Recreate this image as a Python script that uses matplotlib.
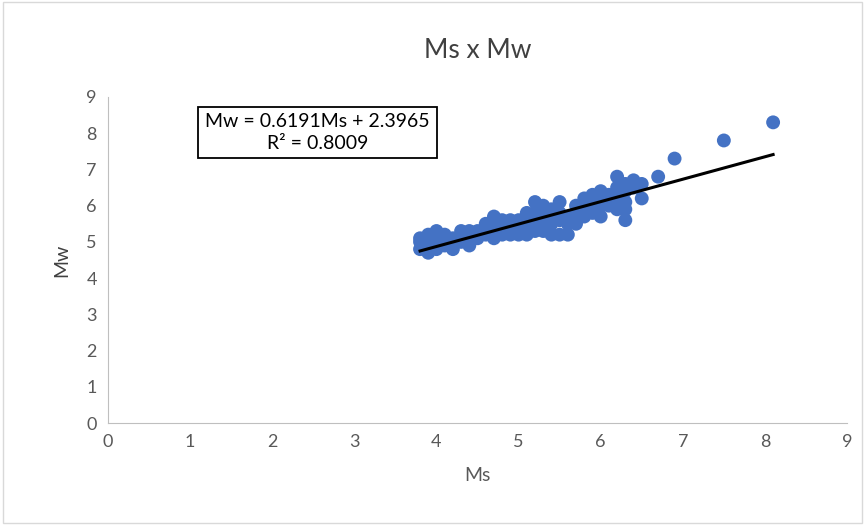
import matplotlib.pyplot as plt
import matplotlib.patches as patches
import numpy as np

# Ms values and the Mw values observed at each
ms_groups = [3.8, 3.9, 4.0, 4.1, 4.2, 4.3, 4.4, 4.5, 4.6, 4.7, 4.8, 4.9, 5.0,
             5.1, 5.2, 5.3, 5.4, 5.5, 5.6, 5.7, 5.8, 5.9, 6.0, 6.1, 6.2, 6.3,
             6.4, 6.5, 6.7, 6.9, 7.5, 8.1]
mw_groups = [
    [4.8, 5.0, 5.1], [4.7, 4.9, 5.1, 5.2], [4.8, 5.0, 5.2, 5.3], [4.9, 5.1, 5.2],
    [4.8, 5.0, 5.1], [5.0, 5.2, 5.3], [4.9, 5.1, 5.3], [5.1, 5.2, 5.3],
    [5.2, 5.4, 5.5], [5.1, 5.3, 5.5, 5.7], [5.2, 5.4, 5.6], [5.2, 5.3, 5.5, 5.6],
    [5.2, 5.4, 5.5, 5.6], [5.2, 5.4, 5.6, 5.8], [5.3, 5.5, 5.8, 6.1],
    [5.3, 5.6, 5.8, 6.0], [5.2, 5.5, 5.7, 5.9], [5.2, 5.6, 5.8, 6.1],
    [5.2, 5.5, 5.7], [5.5, 5.8, 6.0], [5.7, 5.9, 6.1, 6.2], [5.8, 6.0, 6.3],
    [5.7, 6.0, 6.2, 6.4], [6.0, 6.2, 6.3], [5.9, 6.2, 6.5, 6.8],
    [5.6, 5.9, 6.1, 6.4, 6.6], [6.5, 6.7], [6.2, 6.6], [6.8], [7.3], [7.8], [8.3],
]

slope = 0.6191
intercept = 2.3965
r_squared = 0.8009

ms = []
mw = []
for x, ys in zip(ms_groups, mw_groups):
    for y in ys:
        ms.append(x)
        mw.append(y)
ms = np.array(ms)
mw = np.array(mw)

plt.rcParams['font.family'] = ['Lato', 'DejaVu Sans']

fig = plt.figure(figsize=(8.65, 5.26), dpi=100)
ax = fig.add_axes([0.1249, 0.1958, 0.8543, 0.6198])

ax.scatter(ms, mw, s=100, color='#4472C4', edgecolors='none', zorder=2)

xfit = np.array([ms.min(), ms.max()])
ax.plot(xfit, slope * xfit + intercept, color='black', lw=2.2, zorder=3)

ax.set_xlim(0, 9)
ax.set_ylim(0, 9)
ax.set_xticks(range(0, 10))
ax.set_yticks(range(0, 10))
for s in ['top', 'right']:
    ax.spines[s].set_visible(False)
for s in ['left', 'bottom']:
    ax.spines[s].set_color('#bfbfbf')
ax.tick_params(length=0, labelsize=13, labelcolor='#595959', pad=8)

ax.set_title('Ms x Mw', fontsize=19, color='#404040', pad=28)
ax.set_xlabel('Ms', fontsize=14, color='#595959', labelpad=12)
ax.set_ylabel('Mw', fontsize=14, color='#404040', labelpad=12)

ax.text(2.55, 8.02, f'Mw = {slope}Ms + {intercept}\nR² = {r_squared}',
        ha='center', va='center', fontsize=14, color='#000000', linespacing=1.3,
        bbox=dict(boxstyle='square,pad=0.35', facecolor='white', edgecolor='black', lw=1.3))

fig.patches.append(patches.Rectangle((0.004, 0.006), 0.992, 0.99, transform=fig.transFigure,
                                     fill=False, edgecolor='#d9d9d9', lw=1))

fig.savefig('out.png', dpi=100)
